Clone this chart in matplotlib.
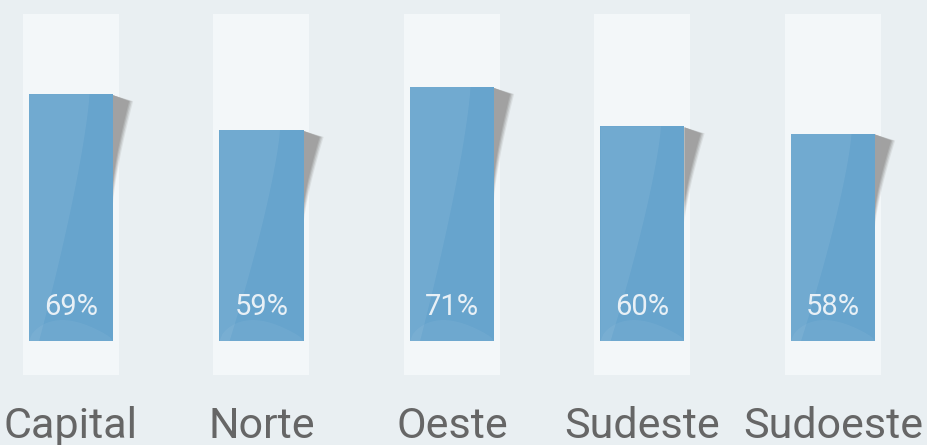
import matplotlib.pyplot as plt
from matplotlib.patches import Polygon, Rectangle
import numpy as np

plt.rcParams['font.family'] = ['Roboto', 'DejaVu Sans']

regioes = ['Capital', 'Norte', 'Oeste', 'Sudeste', 'Sudoeste']
valores = [69, 59, 71, 60, 58]
rotulos = ['69%', '59%', '71%', '60%', '58%']

# escala aproximada em pixels
PX_X = 190.5      # px por categoria
PX_Y = 3.577      # px por ponto percentual

fundo = '#e9eff2'
painel = '#f3f7f9'
azul = '#67a4cd'

fig = plt.figure(figsize=(9.28, 4.45), dpi=100)
fig.patch.set_facecolor(fundo)
ax = fig.add_axes([0, 0, 1, 1])
ax.set_facecolor(fundo)
ax.set_xlim(-71 / PX_X, (928 - 71) / PX_X)
ax.set_ylim((341 - 445) / PX_Y, 341 / PX_Y)
ax.axis('off')

x = np.arange(len(regioes))
larg_painel = 96 / PX_X
larg_barra = 84 / PX_X
topo_painel = (341 - 14) / PX_Y
base_painel = (341 - 375) / PX_Y

# colunas de fundo
for xi in x:
    ax.add_patch(Rectangle((xi - larg_painel / 2, base_painel), larg_painel,
                           topo_painel - base_painel, facecolor=painel,
                           edgecolor='none', zorder=1))

# sombra da "folha" dobrada
dx = 18 / PX_X
t = np.linspace(0, 1, 30)
for xi, v in zip(x, valores):
    xr = xi + larg_barra / 2
    dy = 0.37 * v
    topo = v - 1 / PX_Y
    for esc, alfa in [(1.12, 0.2), (1.05, 0.35), (0.97, 0.55), (0.9, 0.9)]:
        cx = xr + dx * esc * (1 - t) ** 1.3
        cy = topo - 6 / PX_Y - dy * esc * t
        pts = [(xr, topo)] + list(zip(cx, cy)) + [(xr, topo - dy * esc)]
        ax.add_patch(Polygon(pts, closed=True, facecolor='#a0a0a0',
                             edgecolor='none', alpha=alfa, zorder=2))

barras = ax.bar(x, valores, width=larg_barra, color=azul, zorder=3)

# brilho suave do lado esquerdo
for b in barras:
    x0 = b.get_x()
    w = b.get_width()
    h = b.get_height()
    s = np.linspace(0, 1, 30)
    borda = [(x0 + w * (0.72 - 0.6 * si ** 1.3), h * (1 - si)) for si in s]
    pts = [(x0, h)] + borda + [(x0, 0)]
    ax.add_patch(Polygon(pts, closed=True, facecolor='white', edgecolor='none',
                         alpha=0.07, zorder=4))
    onda = [(x0 + w * si, 4.5 / PX_Y * 6 * np.sin(np.pi * si) ** 0.6 * (1 - 0.5 * si)) for si in s]
    ax.add_patch(Polygon([(x0, 0)] + onda + [(x0 + w, 0)], closed=True,
                         facecolor='white', edgecolor='none', alpha=0.05, zorder=4))

for xi, r in zip(x, rotulos):
    ax.text(xi, (341 - 315) / PX_Y, r, ha='center', va='baseline',
            fontsize=21, color='#e8f0f6', zorder=5)

for xi, nome in zip(x, regioes):
    ax.text(xi, (341 - 438) / PX_Y, nome, ha='center', va='baseline',
            fontsize=31, color='#666666', zorder=5)

fig.savefig('out.png', dpi=100, facecolor=fundo)
